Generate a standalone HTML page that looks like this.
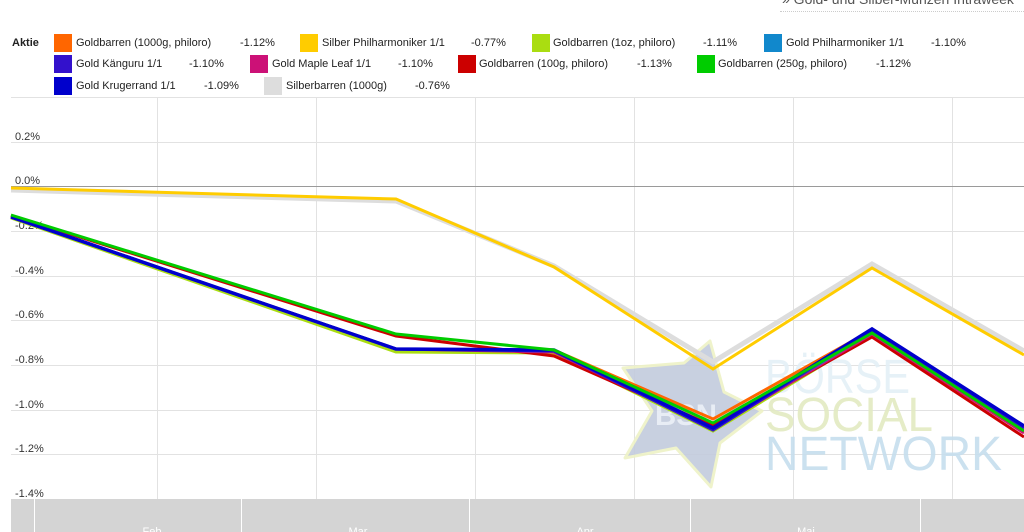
<!DOCTYPE html>
<html><head><meta charset="utf-8"><style>
html,body{margin:0;padding:0;background:#fff;}
body{width:1024px;height:532px;overflow:hidden;position:relative;font-family:"Liberation Sans",Arial,sans-serif;}
.t{position:absolute;font-size:11px;color:#222;line-height:13px;white-space:nowrap;}
.sq{position:absolute;width:18px;height:18px;}
</style></head><body>
<div style="position:absolute;left:782px;top:-9px;font-size:14px;color:#555;white-space:nowrap;line-height:16px;">» Gold- und Silber-Münzen Intraweek</div>
<div style="position:absolute;left:780px;top:11px;width:244px;height:0;border-top:1px dotted #ccc;"></div>

<div class="t" style="left:12px;top:37px;font-weight:bold;">Aktie</div>
<!-- row1 -->
<div class="sq" style="left:54px;top:34px;background:#ff6600"></div>
<div class="t" style="left:76px;top:37px;">Goldbarren (1000g, philoro)</div>
<div class="t" style="left:240px;top:37px;">-1.12%</div>
<div class="sq" style="left:300px;top:34px;background:#ffcc00"></div>
<div class="t" style="left:322px;top:37px;">Silber Philharmoniker 1/1</div>
<div class="t" style="left:471px;top:37px;">-0.77%</div>
<div class="sq" style="left:532px;top:34px;background:#aadd11"></div>
<div class="t" style="left:553px;top:37px;">Goldbarren (1oz, philoro)</div>
<div class="t" style="left:703px;top:37px;">-1.11%</div>
<div class="sq" style="left:764px;top:34px;background:#1188cc"></div>
<div class="t" style="left:786px;top:37px;">Gold Philharmoniker 1/1</div>
<div class="t" style="left:931px;top:37px;">-1.10%</div>
<!-- row2 -->
<div class="sq" style="left:54px;top:55px;background:#3311cc"></div>
<div class="t" style="left:76px;top:58px;">Gold Känguru 1/1</div>
<div class="t" style="left:189px;top:58px;">-1.10%</div>
<div class="sq" style="left:250px;top:55px;background:#cc1177"></div>
<div class="t" style="left:272px;top:58px;">Gold Maple Leaf 1/1</div>
<div class="t" style="left:398px;top:58px;">-1.10%</div>
<div class="sq" style="left:458px;top:55px;background:#cc0000"></div>
<div class="t" style="left:479px;top:58px;">Goldbarren (100g, philoro)</div>
<div class="t" style="left:637px;top:58px;">-1.13%</div>
<div class="sq" style="left:697px;top:55px;background:#00cc00"></div>
<div class="t" style="left:718px;top:58px;">Goldbarren (250g, philoro)</div>
<div class="t" style="left:876px;top:58px;">-1.12%</div>
<!-- row3 -->
<div class="sq" style="left:54px;top:77px;background:#0000cc"></div>
<div class="t" style="left:76px;top:80px;">Gold Krugerrand 1/1</div>
<div class="t" style="left:204px;top:80px;">-1.09%</div>
<div class="sq" style="left:264px;top:77px;background:#dddddd"></div>
<div class="t" style="left:286px;top:80px;">Silberbarren (1000g)</div>
<div class="t" style="left:415px;top:80px;">-0.76%</div>

<svg width="1024" height="532" style="position:absolute;left:0;top:0;" xmlns="http://www.w3.org/2000/svg">
<g stroke="#e2e2e2" stroke-width="1" fill="none">
<line x1="11" y1="97.5" x2="1024" y2="97.5"/>
<line x1="11" y1="142.5" x2="1024" y2="142.5"/>
<line x1="11" y1="231.5" x2="1024" y2="231.5"/>
<line x1="11" y1="276.5" x2="1024" y2="276.5"/>
<line x1="11" y1="320.5" x2="1024" y2="320.5"/>
<line x1="11" y1="365.5" x2="1024" y2="365.5"/>
<line x1="11" y1="410.5" x2="1024" y2="410.5"/>
<line x1="11" y1="454.5" x2="1024" y2="454.5"/>
<line x1="157.5" y1="97" x2="157.5" y2="499"/>
<line x1="316.5" y1="97" x2="316.5" y2="499"/>
<line x1="475.5" y1="97" x2="475.5" y2="499"/>
<line x1="634.5" y1="97" x2="634.5" y2="499"/>
<line x1="793.5" y1="97" x2="793.5" y2="499"/>
<line x1="952.5" y1="97" x2="952.5" y2="499"/>
</g>
<line x1="11" y1="186.5" x2="1024" y2="186.5" stroke="#9a9a9a" stroke-width="1"/>
<g font-family="Liberation Sans, Arial, sans-serif" font-size="11" fill="#333">
<text x="15" y="140">0.2%</text>
<text x="15" y="184">0.0%</text>
<text x="15" y="229">-0.2%</text>
<text x="15" y="274">-0.4%</text>
<text x="15" y="318">-0.6%</text>
<text x="15" y="363">-0.8%</text>
<text x="15" y="408">-1.0%</text>
<text x="15" y="452">-1.2%</text>
<text x="15" y="497">-1.4%</text>
</g>
<!-- watermark -->
<g opacity="0.9">
<polygon points="710,341 724,392 762,411 720,443 711,487 676,448 625,458 652,411 623,368 684,363" fill="#c3cbdd" stroke="#eef2c6" stroke-width="3" stroke-linejoin="round"/>
<text x="655" y="425" font-family="Liberation Sans, Arial, sans-serif" font-size="30" font-weight="bold" fill="#e6ecf4" textLength="62" lengthAdjust="spacingAndGlyphs">BSN</text>
<g font-family="Liberation Sans, Arial, sans-serif" font-size="48">
<text x="765" y="393" fill="#e4f0f7" textLength="145" lengthAdjust="spacingAndGlyphs">BÖRSE</text>
<text x="765" y="431" fill="#e3eac2" textLength="168" lengthAdjust="spacingAndGlyphs">SOCIAL</text>
<text x="765" y="470" fill="#c6deee" textLength="237" lengthAdjust="spacingAndGlyphs">NETWORK</text>
</g>
</g>
<!-- series -->
<g fill="none" stroke-linejoin="miter" stroke-linecap="butt">
<polyline points="11,190 396,201 554,266 713,362 872,264 1024,351" stroke="#dddddd" stroke-width="5"/>
<polyline points="11,188 396,199 554,267 713,369 872,268 1024,355" stroke="#ffcc00" stroke-width="3"/>
<polyline points="11,218 396,352 554,353 713,431 872,335 1024,432" stroke="#aadd11" stroke-width="3"/>
<polyline points="11,217 396,349 554,350 713,419 872,330 1024,431" stroke="#ff6600" stroke-width="3"/>
<polyline points="11,215.5 396,336 554,356 713,426 872,337 1024,437" stroke="#cc0000" stroke-width="3"/>
<polyline points="11,217 396,349 554,352 713,429 872,334 1024,433" stroke="#cc1177" stroke-width="3"/>
<polyline points="11,217 396,349 554,351 713,428 872,332 1024,430" stroke="#1188cc" stroke-width="3"/>
<polyline points="11,217 396,349 554,351 713,430 872,330 1024,428" stroke="#3311cc" stroke-width="3"/>
<polyline points="11,217 396,349 554,350 713,428 872,329 1024,426" stroke="#0000cc" stroke-width="3.5"/>
<polyline points="11,215 396,334 554,350 713,423 872,333 1024,431" stroke="#00cc00" stroke-width="3"/>
</g>
<!-- bottom band -->
<rect x="11" y="499" width="1013" height="33" fill="#d4d4d4"/>
<g stroke="#ffffff" stroke-width="1">
<line x1="34.5" y1="499" x2="34.5" y2="532"/>
<line x1="241.5" y1="499" x2="241.5" y2="532"/>
<line x1="469.5" y1="499" x2="469.5" y2="532"/>
<line x1="690.5" y1="499" x2="690.5" y2="532"/>
<line x1="920.5" y1="499" x2="920.5" y2="532"/>
</g>
<g font-family="Liberation Sans, Arial, sans-serif" font-size="11" fill="#ffffff" text-anchor="middle">
<text x="152" y="535">Feb</text>
<text x="358" y="535">Mar</text>
<text x="585" y="535">Apr</text>
<text x="806" y="535">Mai</text>
</g>
</svg>
</body></html>
